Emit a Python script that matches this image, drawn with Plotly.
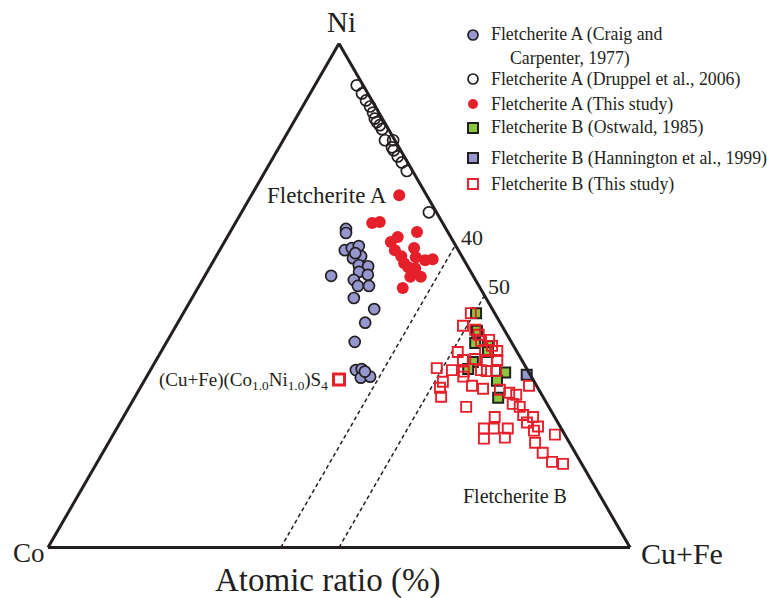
import plotly.graph_objects as go

W, H = 767, 598

# ---- data: Ni, Co, Cu+Fe (atomic %) ----
craig_ni = [63.2, 62.4, 59.0, 59.4, 59.8, 57.8, 57.4, 56.0, 55.8, 54.7, 54.1, 53.9, 53.1,
            51.9, 51.9, 49.5, 47.3, 44.6, 40.8, 35.2, 35.4, 33.7, 33.9, 34.9, 58.4]
craig_co = [17.2, 17.6, 19.5, 18.1, 16.7, 17.3, 18.9, 18.6, 17.1, 19.2, 18.0, 24.4, 20.9,
            20.8, 18.9, 22.7, 20.3, 23.2, 26.9, 29.5, 28.4, 29.4, 27.7, 28.1, 18.0]
craig_cufe = [19.6, 20.0, 21.5, 22.5, 23.5, 24.9, 23.7, 25.4, 27.1, 26.1, 27.9, 21.7, 26.0,
              27.3, 29.2, 27.8, 32.4, 32.2, 32.3, 35.3, 36.2, 36.9, 38.4, 37.0, 23.6]

druppel_ni = [91.7, 90.1, 88.7, 87.5, 86.3, 85.1, 84.4, 83.8, 83.0, 80.8, 80.8, 79.4, 78.8,
              77.6, 76.4, 74.7, 66.5]
druppel_co = [1.1, 1.0, 1.0, 0.9, 1.0, 1.3, 1.3, 1.1, 1.1, 1.7, 0.3, 1.2, 1.2,
              1.1, 1.0, 1.0, 1.3]
druppel_cufe = [7.2, 8.9, 10.3, 11.6, 12.7, 13.6, 14.3, 15.1, 15.9, 17.5, 18.9, 19.4, 20.0,
                21.3, 22.6, 24.3, 32.2]

thisA_ni = [69.9, 64.4, 64.6, 61.6, 62.6, 60.6, 59.0, 59.4, 57.8, 56.4, 57.6, 57.0, 57.2,
            55.6, 55.4, 53.7, 53.7, 51.5]
thisA_co = [4.7, 12.1, 10.7, 9.1, 5.3, 10.8, 10.9, 7.4, 10.4, 10.6, 8.0, 6.7, 5.3,
            10.3, 9.2, 10.9, 9.1, 13.3]
thisA_cufe = [25.4, 23.5, 24.7, 29.3, 32.1, 28.6, 30.1, 33.2, 31.8, 33.0, 34.4, 36.3, 37.5,
              34.1, 35.4, 35.4, 37.2, 35.2]

ostwald_ni = [46.5, 43.0, 40.6, 40.0, 38.8, 36.8, 35.4, 34.7, 33.1, 29.7]
ostwald_co = [3.2, 4.8, 6.3, 4.4, 5.0, 8.6, 10.1, 4.1, 6.3, 7.8]
ostwald_cufe = [50.3, 52.2, 53.1, 55.6, 56.2, 54.6, 54.5, 61.2, 60.6, 62.5]

hann_ni = [34.3]
hann_co = [0.6]
hann_cufe = [65.1]

thisB_ni = [46.5, 44.0, 43.2, 42.2, 41.2, 41.0, 38.8, 40.0, 39.0, 37.2, 37.4, 37.0, 37.2,
            35.6, 35.2, 34.9, 35.2, 35.0, 35.0, 32.9, 31.7, 33.9, 32.1, 31.5, 29.9, 31.3,
            30.7, 30.3, 32.1, 28.5, 27.9, 26.3, 25.9, 24.8, 24.0, 23.2, 27.9, 25.9, 23.6,
            23.6, 23.6, 21.6, 21.8, 22.4, 20.8, 18.8, 17.0, 16.6, 39.2]
thisB_co = [4.1, 6.7, 5.0, 4.9, 3.6, 5.1, 10.2, 3.7, 3.3, 10.1, 7.9, 6.1, 4.2,
            15.4, 13.0, 11.1, 8.0, 7.1, 5.5, 15.7, 16.8, 11.7, 11.1, 9.5, 17.5, 6.7,
            5.4, 4.4, 1.3, 5.9, 5.0, 5.2, 3.7, 5.3, 3.8, 4.9, 14.2, 10.3, 13.3,
            11.6, 9.2, 14.3, 10.6, 1.7, 5.9, 5.6, 4.9, 3.2, 5.3]
thisB_cufe = [49.4, 49.3, 51.8, 52.9, 55.2, 53.9, 51.0, 56.3, 57.7, 52.7, 54.7, 56.9, 58.6,
              49.0, 51.8, 54.0, 56.8, 57.9, 59.5, 51.4, 51.5, 54.4, 56.8, 59.0, 52.6, 62.0,
              63.9, 65.3, 66.6, 65.6, 67.1, 68.5, 70.4, 69.9, 72.2, 71.9, 57.9, 63.8, 63.1,
              64.8, 67.2, 64.1, 67.6, 75.9, 73.3, 75.6, 78.1, 80.2, 55.5]

# ideal (Cu+Fe)(Co1.0Ni1.0)S4 composition
ideal_ni = [33.33]
ideal_co = [33.33]
ideal_cufe = [33.34]

guide_cufe = [40, 50]
guide_labels = ["40", "50"]

# ---- styles ----
FONT = "Liberation Serif"
INK = "#231f20"
LAV = "#9797cf"
RED = "#e5202a"
GREEN = "#8cc63f"


def fx(x):
    return x / W


def fy(y):
    return 1 - y / H


fig = go.Figure()

# guide dashed lines (constant Cu+Fe)
for v in guide_cufe:
    fig.add_trace(go.Scatterternary(
        a=[0, 100 - v], b=[100 - v, 0], c=[v, v], mode="lines",
        line=dict(color=INK, width=1.5, dash="4px,3px"),
        hoverinfo="skip", showlegend=False, cliponaxis=False))

series = [
    ("Fletcherite A (Craig and Carpenter, 1977)", craig_ni, craig_co, craig_cufe,
     dict(symbol="circle", size=11, color=LAV, line=dict(color=INK, width=1.7))),
    ("Fletcherite A (Druppel et al., 2006)", druppel_ni, druppel_co, druppel_cufe,
     dict(symbol="circle-open", size=11, color=INK, line=dict(color=INK, width=1.7))),
    ("Fletcherite A (This study)", thisA_ni, thisA_co, thisA_cufe,
     dict(symbol="circle", size=12, color=RED, line=dict(width=0))),
    ("Fletcherite B (Ostwald, 1985)", ostwald_ni, ostwald_co, ostwald_cufe,
     dict(symbol="square", size=10, color=GREEN, line=dict(color=INK, width=2))),
    ("Fletcherite B (Hannington et al., 1999)", hann_ni, hann_co, hann_cufe,
     dict(symbol="square", size=10, color=LAV, line=dict(color=INK, width=2))),
    ("Fletcherite B (This study)", thisB_ni, thisB_co, thisB_cufe,
     dict(symbol="square-open", size=10, color=RED, line=dict(color=RED, width=1.9))),
    ("(Cu+Fe)(Co1.0Ni1.0)S4", ideal_ni, ideal_co, ideal_cufe,
     dict(symbol="square-open", size=11, color=RED, line=dict(color=RED, width=3))),
]

for name, a, b, c, mk in series:
    fig.add_trace(go.Scatterternary(a=a, b=b, c=c, mode="markers", name=name,
                                    marker=mk, cliponaxis=False, showlegend=False))

axis_common = dict(showgrid=False, showticklabels=False, ticks="", showline=True,
                   linecolor=INK, linewidth=3, title=dict(text=""))

annotations = []


def text(x, y, s, size, xanchor="center"):
    annotations.append(dict(x=fx(x), y=fy(y), xref="paper", yref="paper", text=s,
                            showarrow=False, xanchor=xanchor, yanchor="middle",
                            font=dict(family=FONT, size=size, color=INK)))


text(341, 22, "Ni", 29)
text(29, 553, "Co", 27)
text(682, 553, "Cu+Fe", 30)
text(327, 580, "Atomic ratio (%)", 33)
text(472, 238, guide_labels[0], 22)
text(499, 286, guide_labels[1], 22)
text(327, 195, "Fletcherite A", 23)
text(515, 496, "Fletcherite B", 20)
text(330, 381, "(Cu+Fe)(Co<sub>1.0</sub>Ni<sub>1.0</sub>)S<sub>4</sub>", 19, xanchor="right")

# manual legend
shapes = []
leg_x = 473
leg_rows = [
    (35, "circle", LAV, INK, 1.7, "Fletcherite A (Craig and"),
    (79, "circle", "rgba(0,0,0,0)", INK, 1.7, "Fletcherite A (Druppel et al., 2006)"),
    (104, "circle", RED, RED, 0, "Fletcherite A (This study)"),
    (128, "rect", GREEN, INK, 2, "Fletcherite B (Ostwald, 1985)"),
    (158, "rect", LAV, INK, 2, "Fletcherite B (Hannington et al., 1999)"),
    (184, "rect", "white", RED, 1.9, "Fletcherite B (This study)"),
]
r = 5
for y, kind, fill, lc, lw, label in leg_rows:
    shapes.append(dict(type=kind, xref="paper", yref="paper",
                       x0=fx(leg_x - r), x1=fx(leg_x + r), y0=fy(y + r), y1=fy(y - r),
                       fillcolor=fill, line=dict(color=lc, width=lw)))
    text(489, y, label, 17.8, xanchor="left")
text(508, 58, "Carpenter, 1977)", 17.8, xanchor="left")

fig.update_layout(
    width=W, height=H, margin=dict(l=0, r=0, t=0, b=0),
    paper_bgcolor="white", plot_bgcolor="white", showlegend=False,
    ternary=dict(sum=100, bgcolor="white",
                 domain=dict(x=[48 / W, 630 / W], y=[fy(548), fy(43)]),
                 aaxis=axis_common, baxis=axis_common, caxis=axis_common),
    annotations=annotations, shapes=shapes,
)

fig.write_html("out.html")
